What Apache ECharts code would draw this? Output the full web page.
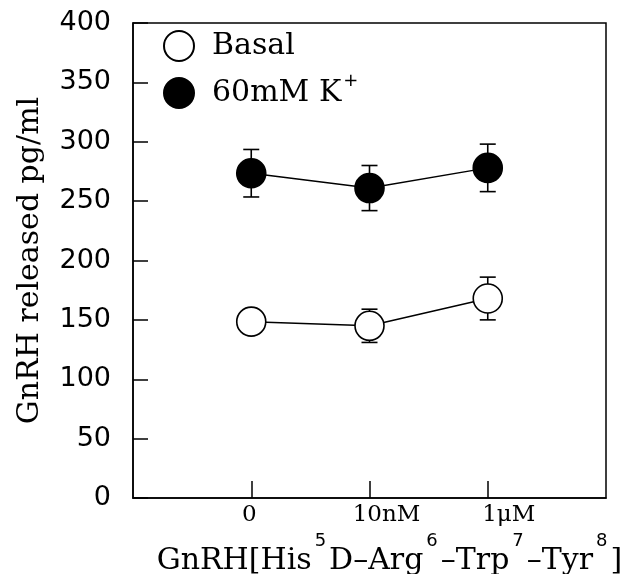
<!DOCTYPE html>
<html><head><meta charset="utf-8">
<script src="https://cdn.jsdelivr.net/npm/echarts@6/dist/echarts.min.js"></script>
<style>html,body{margin:0;padding:0;background:#fff}#c{width:628px;height:574px}</style>
</head><body><div id="c"></div>
<script>
const categories = ['0', '10nM', '1\u03bcM'];
const xPositions = [0, 1, 2];
const basalMean = [148.5, 145, 168];
const basalErr = [5, 14, 18];
const kMean = [273.5, 261, 278];
const kErr = [20, 19, 20];
const yTicks = [0, 50, 100, 150, 200, 250, 300, 350, 400];

const chart = echarts.init(document.getElementById('c'));
const serif = 'DejaVu Serif';
const sans = 'DejaVu Sans';

function errData(mean, err) {
  return xPositions.map((x, i) => [x, mean[i] - err[i], mean[i] + err[i]]);
}
function errRender(params, api) {
  const x = api.value(0);
  const lo = api.coord([x, api.value(1)]);
  const hi = api.coord([x, api.value(2)]);
  const w = 8;
  const st = { stroke: '#000', lineWidth: 1.6 };
  return { type: 'group', children: [
    { type: 'line', shape: { x1: lo[0], y1: lo[1], x2: hi[0], y2: hi[1] }, style: st },
    { type: 'line', shape: { x1: lo[0] - w, y1: lo[1], x2: lo[0] + w, y2: lo[1] }, style: st },
    { type: 'line', shape: { x1: hi[0] - w, y1: hi[1], x2: hi[0] + w, y2: hi[1] }, style: st }
  ]};
}

chart.setOption({
  animation: false,
  backgroundColor: '#fff',
  grid: { left: 133, right: 22, top: 23, bottom: 76, outerBoundsMode: 'none', containLabel: false,
          show: true, borderColor: '#000', borderWidth: 1.5, backgroundColor: 'transparent' },
  legend: {
    orient: 'vertical', left: 163, top: 30, padding: 0, itemGap: 10, itemWidth: 30, itemHeight: 30,
    icon: 'circle',
    data: ['Basal', '60mM K+'],
    formatter: n => n === '60mM K+' ? '{t|60mM K}{s|+}' : '{t|' + n + '}',
    textStyle: { rich: {
      t: { fontFamily: serif, fontSize: 30, color: '#000', padding: [0, 0, 0, 13] },
      s: { fontFamily: sans, fontSize: 18, color: '#000', padding: [0, 0, 24, 2] }
    } }
  },
  xAxis: {
    type: 'value', min: -1, max: 3, interval: 1,
    name: '{b|GnRH[His}{s|5}{b|D\u2013Arg}{s|6}{b|\u2013Trp}{s|7}{b|\u2013Tyr}{s|8}{b|]}',
    nameLocation: 'middle', nameGap: 31,
    nameTextStyle: { padding: [0, 0, 0, 40], rich: {
      b: { fontFamily: serif, fontSize: 30, color: '#000' },
      s: { fontFamily: sans, fontSize: 18, color: '#000', padding: [0, 3, 40, 3] }
    } },
    axisLine: { show: true, onZero: false, lineStyle: { color: '#000', width: 1.5 } },
    axisTick: { show: true, inside: true, length: 17, customValues: xPositions, lineStyle: { color: '#000', width: 1.5 } },
    axisLabel: {
      customValues: xPositions,
      formatter: v => ['{a|', '{b|', '{c|'][Math.round(v)] + categories[Math.round(v)] + '}',
      margin: 6,
      rich: {
        a: { fontFamily: serif, fontSize: 23, color: '#000', padding: [0, 4, 0, 0] },
        b: { fontFamily: serif, fontSize: 23, color: '#000', padding: [0, 0, 0, 34] },
        c: { fontFamily: serif, fontSize: 23, color: '#000', padding: [0, 0, 0, 42] }
      }
    },
    splitLine: { show: false }
  },
  yAxis: {
    type: 'value', min: 0, max: 400, interval: 50,
    name: 'GnRH released pg/ml', nameLocation: 'middle', nameGap: 88,
    nameTextStyle: { fontFamily: serif, fontSize: 30, color: '#000' },
    axisLine: { show: true, onZero: false, lineStyle: { color: '#000', width: 1.5 } },
    axisTick: { show: true, inside: true, length: 15, lineStyle: { color: '#000', width: 1.5 } },
    axisLabel: { customValues: yTicks, fontFamily: sans, fontSize: 27, color: '#000', margin: 22 },
    splitLine: { show: false }
  },
  series: [
    { type: 'custom', name: 'errK', data: errData(kMean, kErr), renderItem: errRender, z: 1 },
    { type: 'custom', name: 'errB', data: errData(basalMean, basalErr), renderItem: errRender, z: 1 },
    { type: 'line', name: 'Basal', data: xPositions.map((x, i) => [x, basalMean[i]]), symbol: 'circle', symbolSize: 29,
      lineStyle: { color: '#000', width: 1.5 }, itemStyle: { color: '#fff', borderColor: '#000', borderWidth: 1.6 }, z: 3 },
    { type: 'line', name: '60mM K+', data: xPositions.map((x, i) => [x, kMean[i]]), symbol: 'circle', symbolSize: 29,
      lineStyle: { color: '#000', width: 1.5 }, itemStyle: { color: '#000', borderColor: '#000', borderWidth: 1.6 }, z: 3 }
  ]
});
</script></body></html>
